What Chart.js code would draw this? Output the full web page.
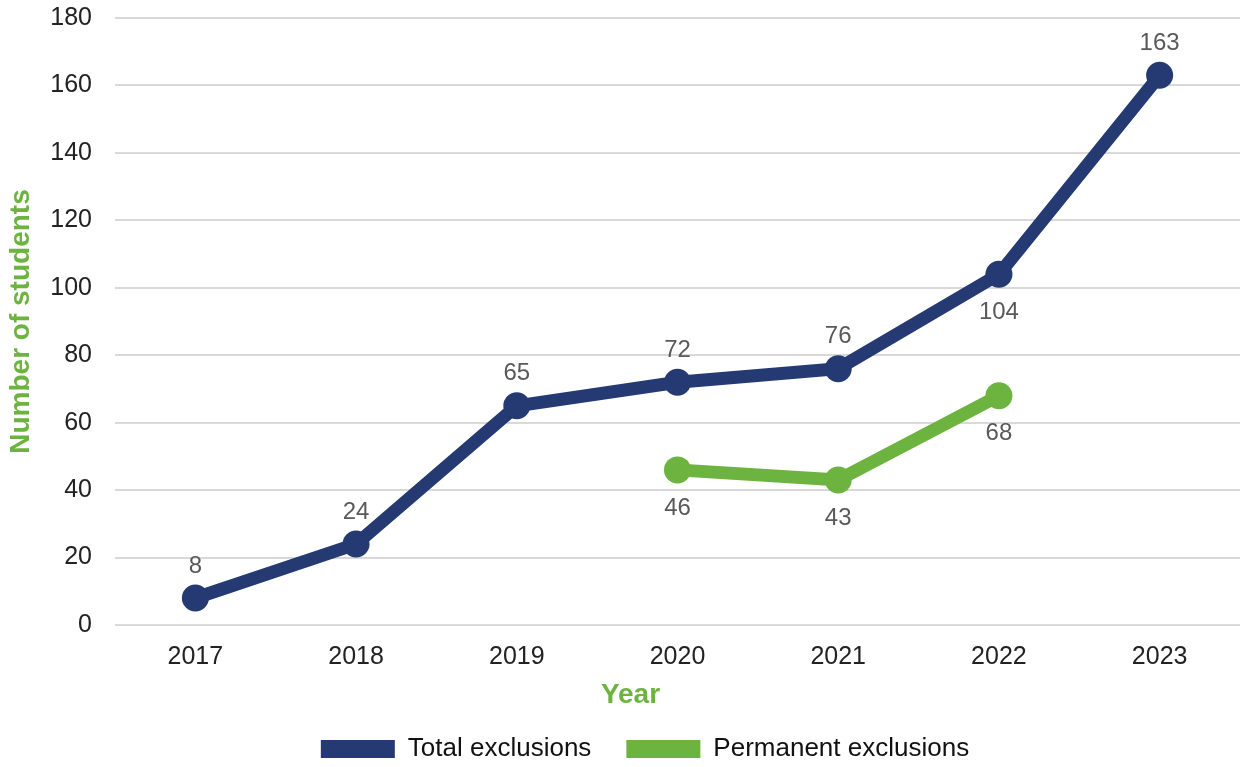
<!DOCTYPE html>
<html>
<head>
<meta charset="utf-8">
<script src="https://cdn.jsdelivr.net/npm/chart.js@4/dist/chart.umd.min.js"></script>
<style>
  html, body { margin: 0; padding: 0; background: #ffffff; overflow: hidden; }
  #wrap { width: 1241px; height: 767px; position: relative; }
</style>
</head>
<body>
<div id="wrap"><canvas id="chart"></canvas></div>
<script>
// Exclusion counts by year
const years = ['2017', '2018', '2019', '2020', '2021', '2022', '2023'];
const totalExclusions = [8, 24, 65, 72, 76, 104, 163];
const permanentExclusions = [null, null, null, 46, 43, 68, null];
// Where each series' value label sits relative to its point
const totalLabelSide = ['above', 'above', 'above', 'above', 'above', 'below', 'above'];
const permanentLabelSide = ['below', 'below', 'below', 'below', 'below', 'below', 'below'];
const yTicks = [0, 20, 40, 60, 80, 100, 120, 140, 160, 180];

const NAVY = '#253a73';
const GREEN = '#6db33f';
const FONT = "'Liberation Sans', Arial, Helvetica, sans-serif";

// Draws each point's value just above or below its marker
const valueLabels = {
  id: 'valueLabels',
  afterDatasetsDraw(chart) {
    const ctx = chart.ctx;
    ctx.save();
    ctx.font = '24px ' + FONT;
    ctx.fillStyle = '#595959';
    ctx.textAlign = 'center';
    ctx.textBaseline = 'middle';
    chart.data.datasets.forEach((ds, di) => {
      const meta = chart.getDatasetMeta(di);
      meta.data.forEach((pt, i) => {
        const v = ds.data[i];
        if (v === null || v === undefined) return;
        const dy = ds.labelSide[i] === 'above' ? -32 : 38;
        ctx.fillText(String(v), pt.x, pt.y + dy);
      });
    });
    ctx.restore();
  }
};

// "Year" caption under the category axis, centred on the page rather than the plot
const xAxisCaption = {
  id: 'xAxisCaption',
  afterDraw(chart) {
    const ctx = chart.ctx;
    ctx.save();
    ctx.font = 'bold 28px ' + FONT;
    ctx.fillStyle = GREEN;
    ctx.textAlign = 'center';
    ctx.textBaseline = 'middle';
    ctx.fillText('Year', chart.width / 2 + 10, chart.chartArea.bottom + 70);
    ctx.restore();
  }
};

// Nudge the legend row so it sits slightly right of the page centre
const legendNudge = {
  id: 'legendNudge',
  afterLayout(chart) {
    if (chart.legend) chart.legend.left += 50;
  }
};

new Chart(document.getElementById('chart'), {
  type: 'line',
  data: {
    labels: years,
    datasets: [
      {
        label: 'Total exclusions',
        data: totalExclusions,
        labelSide: totalLabelSide,
        borderColor: NAVY,
        backgroundColor: NAVY,
        borderWidth: 13,
        pointRadius: 13.5,
        pointHoverRadius: 13.5,
        pointBackgroundColor: NAVY,
        pointBorderWidth: 0,
        tension: 0,
        spanGaps: false,
        clip: false
      },
      {
        label: 'Permanent exclusions',
        data: permanentExclusions,
        labelSide: permanentLabelSide,
        borderColor: GREEN,
        backgroundColor: GREEN,
        borderWidth: 13,
        pointRadius: 13.5,
        pointHoverRadius: 13.5,
        pointBackgroundColor: GREEN,
        pointBorderWidth: 0,
        tension: 0,
        spanGaps: false,
        clip: false
      }
    ]
  },
  options: {
    responsive: true,
    maintainAspectRatio: false,
    animation: false,
    layout: { autoPadding: false, padding: { top: 18, right: 1, left: 0, bottom: 0 } },
    plugins: {
      tooltip: { enabled: false },
      legend: {
        position: 'bottom',
        maxHeight: 66,
        labels: {
          boxWidth: 74,
          boxHeight: 18,
          padding: 35,
          color: '#111111',
          font: { family: FONT, size: 26 },
          generateLabels(chart) {
            return chart.data.datasets.map((ds, i) => ({
              text: ds.label,
              fillStyle: ds.borderColor,
              strokeStyle: ds.borderColor,
              fontColor: '#111111',
              lineWidth: 0,
              datasetIndex: i,
              hidden: false
            }));
          }
        }
      }
    },
    scales: {
      x: {
        offset: true,
        afterFit(scale) {
          scale.height = 76;
          scale.paddingLeft = 0;
          scale.paddingRight = 0;
        },
        grid: { display: false, drawTicks: false },
        border: { display: false },
        ticks: {
          color: '#222222',
          font: { family: FONT, size: 25 },
          padding: 17,
          maxRotation: 0
        },
        title: { display: false }
      },
      y: {
        min: 0,
        max: 180,
        afterBuildTicks(scale) {
          scale.ticks = yTicks.map(v => ({ value: v }));
        },
        afterFit(scale) {
          scale.width = 115;
          scale.paddingTop = 0;
          scale.paddingBottom = 0;
        },
        grid: { color: '#d9d9d9', lineWidth: 2, drawTicks: false },
        border: { display: false },
        ticks: {
          color: '#222222',
          font: { family: FONT, size: 25 },
          padding: 23
        },
        title: {
          display: true,
          text: 'Number of students',
          color: GREEN,
          font: { family: FONT, size: 28, weight: 'bold' },
          padding: { top: 4, bottom: 0 }
        }
      }
    }
  },
  plugins: [valueLabels, xAxisCaption, legendNudge]
});
</script>
</body>
</html>
